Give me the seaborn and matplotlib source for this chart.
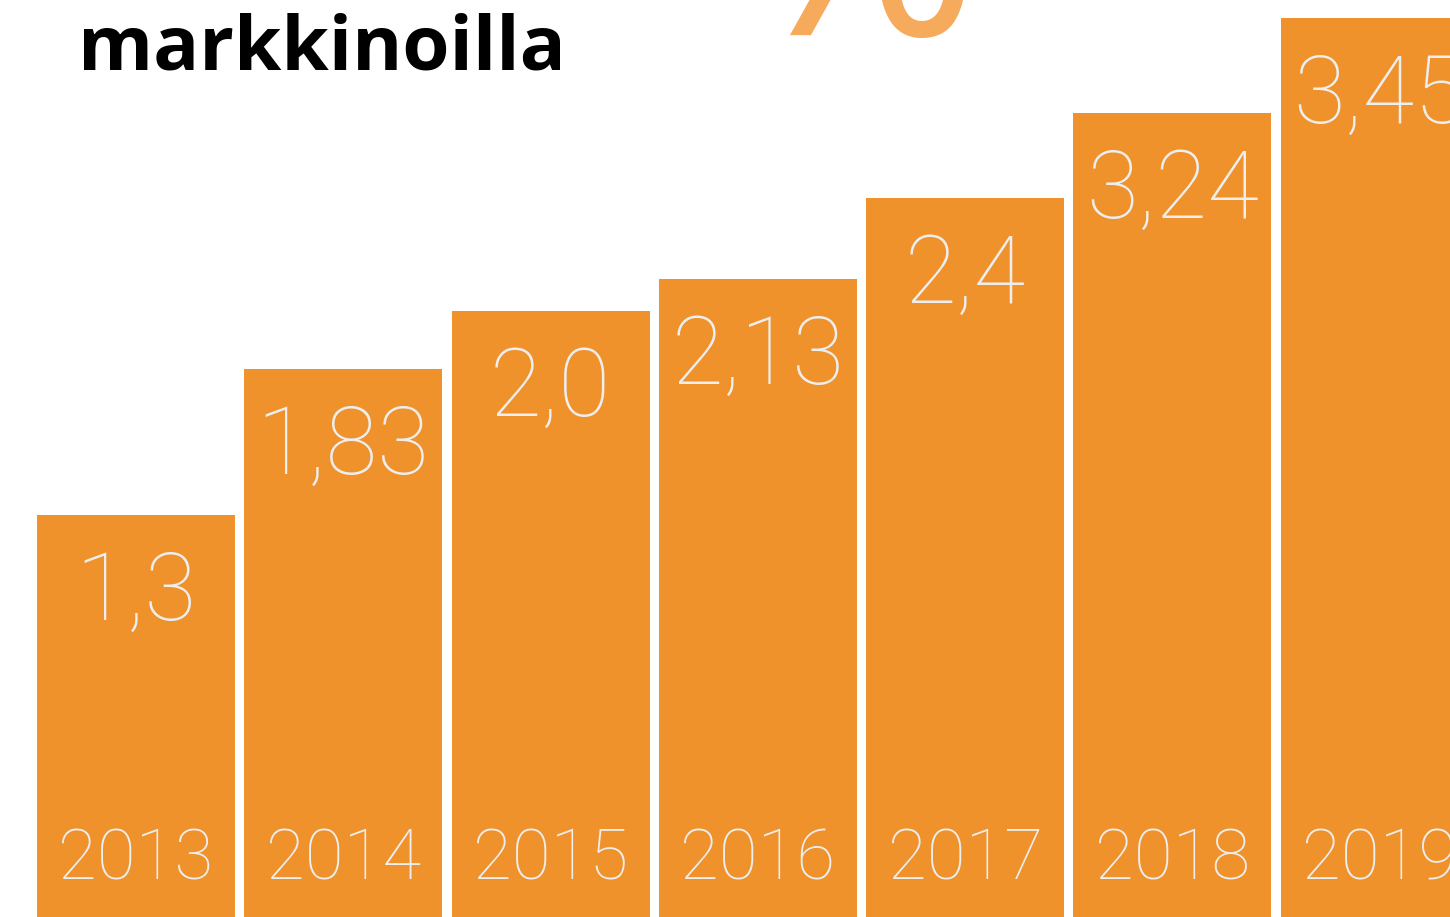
import matplotlib
matplotlib.use("Agg")
import matplotlib.pyplot as plt
import seaborn as sns
import pandas as pd

# ---- DATA ----
years = ["2013", "2014", "2015", "2016", "2017", "2018", "2019"]
value_labels = ["1,3", "1,83", "2,0", "2,13", "2,4", "3,24", "3,45"]
# bar heights as drawn in the infographic (not proportional to labels)
bar_heights = [4.02, 5.48, 6.06, 6.38, 7.19, 8.04, 8.99]

BAR_COLOR = "#F0922C"
TEXT_LIGHT = "#EEEEEE"
PCT_COLOR = "#F6AA5C"

sns.set_theme(style="white")
plt.rcParams["font.family"] = ["Roboto", "DejaVu Sans"]

df = pd.DataFrame({"year": years, "height": bar_heights, "label": value_labels})

fig = plt.figure(figsize=(14.5, 9.17), dpi=100)
ax = fig.add_axes([0, 0, 1, 1])

sns.barplot(data=df, x="year", y="height", color=BAR_COLOR, saturation=1,
            width=0.955, edgecolor="none", linewidth=0, ax=ax)

ax.set_xlim(-0.656, 6.339)
ax.set_ylim(0, 9.17)
ax.axis("off")

# value labels near the top of each bar, year labels at the bottom
for i, row in df.iterrows():
    ax.text(i, row["height"] - 1.05, row["label"], ha="center", va="baseline",
            fontsize=68, color=TEXT_LIGHT, fontweight="light")
    ax.text(i, 0.37, row["year"], ha="center", va="baseline",
            fontsize=51, color=TEXT_LIGHT, fontweight="light")

# heading (partly cropped in the original)
fig.text(78 / 1450, 1 - 70 / 917, "markkinoilla", ha="left", va="baseline",
         fontsize=55, fontweight="bold", color="black",
         family=["Open Sans", "DejaVu Sans"])
fig.text(858 / 1450, 1 - 35 / 917, "%", ha="center", va="baseline",
         fontsize=212, color=PCT_COLOR, family=["Open Sans", "DejaVu Sans"])

fig.savefig("out.png", dpi=100)
